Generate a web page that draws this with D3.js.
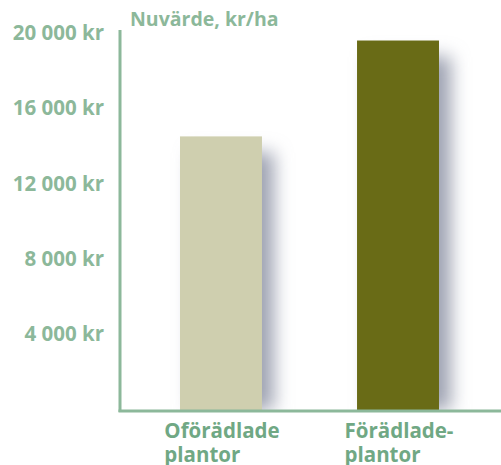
<!DOCTYPE html>
<html>
<head>
<meta charset="utf-8">
<script src="https://cdn.jsdelivr.net/npm/d3@7"></script>
<style>
  html, body { margin: 0; padding: 0; background: #fff; }
  svg { display: block; }
</style>
</head>
<body>
<svg id="chart" width="501" height="465"></svg>
<script>
const categories = ["Oförädlade plantor", "Förädlade- plantor"];
const values = [14500, 19600];
const barColors = ["#cfcfaf", "#696b16"];
const tickValues = [4000, 8000, 12000, 16000, 20000];
const yTitle = "Nuvärde, kr/ha";

const svg = d3.select("#chart");
const width = 501, height = 465;
const axisX = 120, axisBottom = 411, axisTop = 30;

const y = d3.scaleLinear().domain([0, 20000]).range([409, 33]);
const x = d3.scaleBand().domain(categories).range([91.5, 527.5]).paddingInner(0.537).paddingOuter(0.5);

const green = "#8cb89a";
const darkGreen = "#70a884";

// skugga
const defs = svg.append("defs");
const filter = defs.append("filter")
  .attr("id", "shadow")
  .attr("x", "-50%").attr("y", "-50%")
  .attr("width", "200%").attr("height", "200%");
filter.append("feGaussianBlur").attr("stdDeviation", 9);

svg.append("g")
  .selectAll("rect")
  .data(values)
  .join("rect")
  .attr("x", (d, i) => x(categories[i]) + 12)
  .attr("y", d => y(d) + 16)
  .attr("width", x.bandwidth())
  .attr("height", d => axisBottom - 1 - y(d) - 16)
  .attr("fill", "#9ea3b2")
  .attr("filter", "url(#shadow)");

// vit mask under axeln så skuggan inte går under
svg.append("rect")
  .attr("x", 0).attr("y", axisBottom)
  .attr("width", width).attr("height", height - axisBottom)
  .attr("fill", "#fff");

svg.append("g")
  .selectAll("rect")
  .data(values)
  .join("rect")
  .attr("x", (d, i) => x(categories[i]))
  .attr("y", d => y(d))
  .attr("width", x.bandwidth())
  .attr("height", d => axisBottom - 1 - y(d))
  .attr("fill", (d, i) => barColors[i]);

// axlar
svg.append("line")
  .attr("x1", axisX).attr("x2", axisX)
  .attr("y1", axisTop).attr("y2", axisBottom + 1)
  .attr("stroke", green).attr("stroke-width", 3);
svg.append("line")
  .attr("x1", axisX - 1.5).attr("x2", width)
  .attr("y1", axisBottom).attr("y2", axisBottom)
  .attr("stroke", green).attr("stroke-width", 3);

const fmt = d => d3.format(",")(d).replace(",", " ") + " kr";

svg.append("g")
  .selectAll("text")
  .data(tickValues)
  .join("text")
  .attr("x", 104)
  .attr("y", d => y(d))
  .attr("dy", "0.35em")
  .attr("text-anchor", "end")
  .attr("font-family", "Open Sans, sans-serif")
  .attr("font-weight", "bold")
  .attr("font-size", 20.5)
  .attr("fill", green)
  .text(fmt);

svg.append("text")
  .attr("x", 130)
  .attr("y", 26)
  .attr("font-family", "Open Sans, sans-serif")
  .attr("font-weight", "bold")
  .attr("font-size", 19.5)
  .attr("fill", green)
  .text(yTitle);

// kategorietiketter: första raden centrerad under stapeln, andra raden vänsterställd mot den
svg.append("g")
  .selectAll("text")
  .data(categories)
  .join("text")
  .attr("y", 438)
  .attr("font-family", "Open Sans, sans-serif")
  .attr("font-weight", "bold")
  .attr("font-size", 20.5)
  .attr("fill", darkGreen)
  .each(function (d) {
    const parts = d.split(" ");
    const t = d3.select(this);
    const spans = t.selectAll("tspan")
      .data(parts)
      .join("tspan")
      .attr("dy", (p, i) => i === 0 ? 0 : 24)
      .text(p => p);
    const w = spans.nodes()[0].getComputedTextLength();
    const left = x(d) + x.bandwidth() / 2 - w / 2 + 1;
    spans.attr("x", left);
  });
</script>
</body>
</html>
